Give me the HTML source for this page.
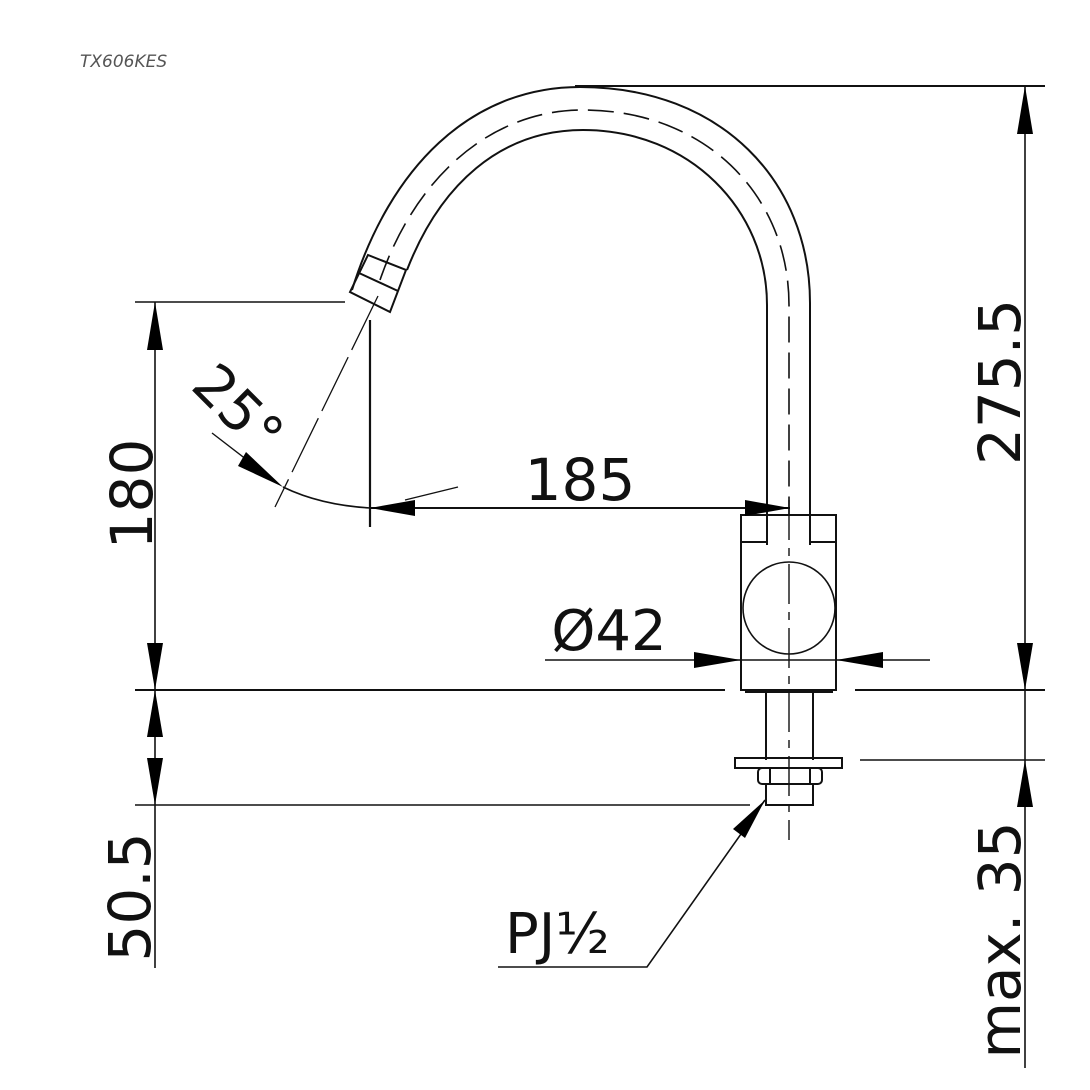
<!DOCTYPE html>
<html><head><style>
html,body{margin:0;padding:0;background:#fff;}
svg{display:block;}
text{font-family:"DejaVu Sans","Liberation Sans",sans-serif;fill:#111;}
</style></head><body>
<svg width="1090" height="1090" viewBox="0 0 1090 1090" xmlns="http://www.w3.org/2000/svg">
<g stroke="#111" fill="none" stroke-width="2">
  <!-- spout outer -->
  <path d="M352,290 C390,168 470,87 580,87 C722,87 810,182 810,303 L810,515"/>
  <!-- spout inner -->
  <path d="M407,270 C440,185 500,130 583,130 C690,130 767,210 767,305 L767,515"/>
  <!-- spout center dashed -->
  <path d="M380,280 C415,178 490,110 583,110 C705,110 789,195 789,305 L789,515" stroke-dasharray="26,10" stroke-width="1.6"/>
  <!-- nozzle -->
  <path d="M350,292 L368,255 L406,270 L390,312 Z"/>
  <path d="M359,273 L398,291"/>
  <!-- nozzle axis -->
  <path d="M378,296 L275,507" stroke-width="1.3" stroke-dasharray="60,8"/>
  <!-- vertical line under nozzle -->
  <path d="M370,320 L370,527" stroke-width="2.2"/>
  <!-- 25 deg arc -->
  <path d="M283,487 Q320,505 370,508" stroke-width="1.6"/>
  <path d="M212,433 L260,470" stroke-width="1.4"/>
  <path d="M405,500 L458,487" stroke-width="1.4"/>
  <!-- 185 dim line -->
  <path d="M370,508 L790,508" stroke-width="2"/>
  <!-- body -->
  <rect x="741" y="515" width="95" height="175"/>
  <path d="M741,542 L767,542 M810,542 L836,542"/>
  <path d="M767,515 L767,545 M810,515 L810,545"/>
  <circle cx="789" cy="608" r="46" stroke-width="1.6"/>
  <path d="M789,500 L789,840" stroke-width="1.4" stroke-dasharray="40,8,8,8"/>
  <!-- Ø42 dim line -->
  <path d="M545,660 L930,660" stroke-width="1.6"/>
  <!-- stem -->
  <path d="M766,690 L766,760 M813,690 L813,760 M745,692 L833,692"/>
  <rect x="735" y="758" width="107" height="10" stroke-width="2"/>
  <rect x="758" y="768" width="64" height="16" rx="4"/>
  <path d="M770,768 L770,784 M810,768 L810,784"/>
  <path d="M766,784 L766,805 L813,805 L813,784"/>
  <!-- extension lines -->
  <path d="M575,86 L1045,86" stroke-width="2"/>
  <path d="M135,302 L345,302" stroke-width="1.6"/>
  <path d="M135,690 L725,690 M855,690 L1045,690" stroke-width="2"/>
  <path d="M135,805 L750,805" stroke-width="1.6"/>
  <path d="M860,760 L1045,760" stroke-width="1.6"/>
  <!-- left dim -->
  <path d="M155,302 L155,968" stroke-width="1.6"/>
  <!-- right dim -->
  <path d="M1025,86 L1025,1068" stroke-width="1.6"/>
  <!-- PJ leader -->
  <path d="M765,800 L647,967 L498,967" stroke-width="1.6"/>
</g>
<g fill="#000" stroke="none">
  <polygon points="155,302 147,350 163,350"/>
  <polygon points="155,690 147,643 163,643"/>
  <polygon points="155,690 147,737 163,737"/>
  <polygon points="155,805 147,758 163,758"/>
  <polygon points="1025,86 1017,134 1033,134"/>
  <polygon points="1025,690 1017,643 1033,643"/>
  <polygon points="1025,760 1017,807 1033,807"/>
  <polygon points="370,508 415,500 415,516"/>
  <polygon points="790,508 745,500 745,516"/>
  <polygon points="283,487 246,452 238,466"/>
  <polygon points="741,660 694,652 694,668"/>
  <polygon points="836,660 883,652 883,668"/>
  <polygon points="765,800 733,829 745,838"/>
</g>
<text x="80" y="67" font-size="17" font-style="italic" style="fill:#555">TX606KES</text>
<text x="580" y="500" font-size="58" text-anchor="middle">185</text>
<text x="609" y="650" font-size="56" text-anchor="middle">Ø42</text>
<text x="505" y="953" font-size="56">PJ½</text>
<text transform="translate(235,412) rotate(45)" font-size="56" text-anchor="middle" dominant-baseline="middle">25°</text>
<text transform="translate(152,494) rotate(-90)" font-size="58" text-anchor="middle">180</text>
<text transform="translate(150,897) rotate(-90)" font-size="58" text-anchor="middle">50.5</text>
<text transform="translate(1020,382) rotate(-90)" font-size="58" text-anchor="middle">275.5</text>
<text transform="translate(1020,940) rotate(-90)" font-size="58" text-anchor="middle">max. 35</text>
</svg>
</body></html>
